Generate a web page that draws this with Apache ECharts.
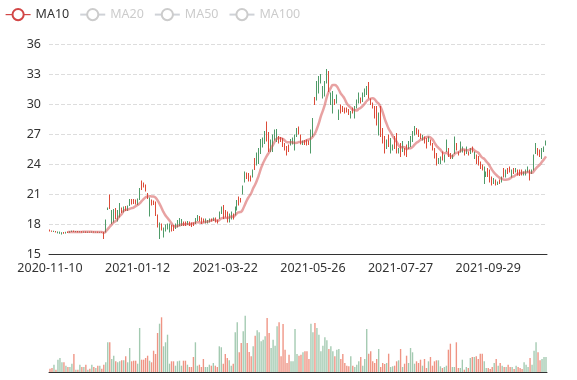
<!DOCTYPE html>
<html><head><meta charset="utf-8">
<script src="https://cdn.jsdelivr.net/npm/echarts@6/dist/echarts.min.js"></script>
<style>html,body{margin:0;padding:0;background:#fff}#main{width:577px;height:380px}</style>
</head><body><div id="main"></div>
<script>
// trading dates (category axis)
const dates = [
'2020-11-10','2020-11-11','2020-11-12','2020-11-13','2020-11-16','2020-11-17','2020-11-18','2020-11-19','2020-11-20','2020-11-23',
'2020-11-24','2020-11-25','2020-11-26','2020-11-27','2020-11-30','2020-12-01','2020-12-02','2020-12-03','2020-12-04','2020-12-07',
'2020-12-08','2020-12-09','2020-12-10','2020-12-11','2020-12-14','2020-12-15','2020-12-16','2020-12-17','2020-12-18','2020-12-21',
'2020-12-22','2020-12-23','2020-12-24','2020-12-25','2020-12-28','2020-12-29','2020-12-30','2020-12-31','2021-01-04','2021-01-05',
'2021-01-06','2021-01-07','2021-01-08','2021-01-11','2021-01-12','2021-01-13','2021-01-14','2021-01-15','2021-01-18','2021-01-19',
'2021-01-20','2021-01-21','2021-01-22','2021-01-25','2021-01-26','2021-01-27','2021-01-28','2021-01-29','2021-02-01','2021-02-02',
'2021-02-03','2021-02-04','2021-02-05','2021-02-08','2021-02-09','2021-02-10','2021-02-18','2021-02-19','2021-02-22','2021-02-23',
'2021-02-24','2021-02-25','2021-02-26','2021-03-01','2021-03-02','2021-03-03','2021-03-04','2021-03-05','2021-03-08','2021-03-09',
'2021-03-10','2021-03-11','2021-03-12','2021-03-15','2021-03-16','2021-03-17','2021-03-18','2021-03-19','2021-03-22','2021-03-23',
'2021-03-24','2021-03-25','2021-03-26','2021-03-29','2021-03-30','2021-03-31','2021-04-01','2021-04-02','2021-04-05','2021-04-06',
'2021-04-07','2021-04-08','2021-04-09','2021-04-12','2021-04-13','2021-04-14','2021-04-15','2021-04-16','2021-04-19','2021-04-20',
'2021-04-21','2021-04-22','2021-04-23','2021-04-26','2021-04-27','2021-04-28','2021-04-29','2021-04-30','2021-05-06','2021-05-07',
'2021-05-10','2021-05-11','2021-05-12','2021-05-13','2021-05-14','2021-05-17','2021-05-18','2021-05-19','2021-05-20','2021-05-21',
'2021-05-24','2021-05-25','2021-05-26','2021-05-27','2021-05-28','2021-05-31','2021-06-01','2021-06-02','2021-06-03','2021-06-04',
'2021-06-07','2021-06-08','2021-06-09','2021-06-10','2021-06-11','2021-06-14','2021-06-15','2021-06-16','2021-06-17','2021-06-18',
'2021-06-21','2021-06-22','2021-06-23','2021-06-24','2021-06-25','2021-06-28','2021-06-29','2021-06-30','2021-07-01','2021-07-02',
'2021-07-05','2021-07-06','2021-07-07','2021-07-08','2021-07-09','2021-07-12','2021-07-13','2021-07-14','2021-07-15','2021-07-16',
'2021-07-19','2021-07-20','2021-07-21','2021-07-22','2021-07-23','2021-07-26','2021-07-27','2021-07-28','2021-07-29','2021-07-30',
'2021-08-02','2021-08-03','2021-08-04','2021-08-05','2021-08-06','2021-08-09','2021-08-10','2021-08-11','2021-08-12','2021-08-13',
'2021-08-16','2021-08-17','2021-08-18','2021-08-19','2021-08-20','2021-08-23','2021-08-24','2021-08-25','2021-08-26','2021-08-27',
'2021-08-30','2021-08-31','2021-09-01','2021-09-02','2021-09-03','2021-09-06','2021-09-07','2021-09-08','2021-09-09','2021-09-10',
'2021-09-13','2021-09-14','2021-09-15','2021-09-16','2021-09-17','2021-09-22','2021-09-23','2021-09-24','2021-09-27','2021-09-28',
'2021-09-29','2021-09-30','2021-10-08','2021-10-11','2021-10-12','2021-10-13','2021-10-14','2021-10-15','2021-10-18','2021-10-19',
'2021-10-20','2021-10-21','2021-10-22','2021-10-25','2021-10-26','2021-10-27','2021-10-28','2021-10-29','2021-11-01','2021-11-02',
'2021-11-03','2021-11-04','2021-11-05','2021-11-08','2021-11-09','2021-11-10','2021-11-11','2021-11-12','2021-11-15','2021-11-16'
];

// daily bars: [open, close, low, high]
const priceBars = [
[17.40,17.30,17.25,17.45],[17.32,17.26,17.22,17.35],[17.24,17.30,17.20,17.33],[17.28,17.18,17.15,17.30],[17.10,17.22,17.06,17.25],
[17.06,17.20,17.02,17.24],[17.00,17.16,16.95,17.18],[17.16,17.06,17.02,17.20],[17.06,17.20,17.04,17.22],[17.22,17.12,17.10,17.26],
[17.14,17.26,17.12,17.28],[17.24,17.30,17.20,17.34],[17.32,17.22,17.20,17.34],[17.22,17.28,17.18,17.30],[17.28,17.20,17.16,17.30],
[17.18,17.26,17.16,17.28],[17.26,17.18,17.14,17.28],[17.16,17.24,17.14,17.26],[17.24,17.14,17.12,17.26],[17.14,17.22,17.12,17.24],
[17.22,17.16,17.14,17.24],[17.16,17.24,17.14,17.26],[17.24,17.16,17.14,17.26],[17.16,17.22,17.14,17.24],[17.22,17.14,17.12,17.24],
[17.14,17.20,17.12,17.22],[17.20,17.16,17.14,17.22],[17.20,16.60,16.50,17.22],[17.20,18.40,17.15,18.45],[19.45,19.60,19.40,19.65],
[20.90,19.55,19.50,20.95],[18.05,19.35,18.00,19.40],[18.20,19.45,18.15,19.50],[19.55,18.55,18.50,19.60],[18.30,19.35,18.25,19.40],
[18.70,20.05,18.65,20.10],[19.60,19.15,19.10,19.65],[19.20,19.70,19.15,19.75],[19.75,19.35,19.30,19.80],[19.35,19.80,19.30,19.85],
[19.85,20.45,19.80,20.50],[20.45,20.00,19.95,20.50],[20.45,20.05,20.00,20.50],[20.40,20.00,19.95,20.45],[19.95,20.50,19.90,20.55],
[20.45,21.55,20.40,21.60],[22.30,21.45,21.40,22.35],[22.10,21.70,21.65,22.15],[21.90,21.30,21.25,21.95],[21.05,20.55,20.50,21.10],
[18.80,20.60,18.75,20.65],[20.40,19.90,19.85,20.45],[20.30,19.95,19.90,20.35],[20.20,18.85,18.80,20.25],[18.90,17.70,17.65,18.95],
[16.55,18.10,16.50,18.15],[18.00,17.40,17.35,18.05],[16.70,17.60,16.65,17.65],[17.30,17.90,17.25,17.95],[17.50,18.00,17.45,18.05],
[17.20,18.00,17.15,18.05],[17.85,17.30,17.25,17.90],[17.85,17.35,17.30,17.90],[17.55,18.00,17.50,18.05],[17.70,18.35,17.65,18.40],
[17.85,18.55,17.80,18.60],[17.85,18.45,17.80,18.50],[18.20,17.85,17.80,18.25],[18.20,17.85,17.80,18.25],[17.95,18.25,17.90,18.30],
[18.20,17.85,17.80,18.25],[18.10,17.75,17.70,18.15],[18.10,17.85,17.80,18.15],[18.05,18.55,18.00,18.60],[18.35,18.85,18.30,18.90],
[18.75,18.30,18.25,18.80],[18.60,18.05,18.00,18.65],[18.50,18.20,18.15,18.55],[18.10,18.50,18.05,18.55],[18.10,18.35,18.05,18.40],
[18.20,18.50,18.15,18.55],[18.50,18.30,18.25,18.55],[18.35,18.60,18.30,18.65],[18.60,18.20,18.15,18.65],[18.40,18.10,18.05,18.45],
[18.55,19.20,18.50,19.25],[19.05,19.70,19.00,19.75],[19.85,18.55,18.50,19.90],[19.35,18.70,18.65,19.40],[19.20,18.20,18.15,19.25],
[18.20,19.00,18.15,19.05],[18.50,19.20,18.45,19.25],[19.00,18.50,18.45,19.05],[18.90,19.70,18.85,19.75],[19.40,20.35,19.35,20.40],
[20.70,19.90,19.85,20.75],[20.55,20.20,20.15,20.60],[21.00,21.80,20.95,21.85],[22.20,23.20,22.15,23.25],[23.10,22.55,22.50,23.15],
[23.05,22.30,22.25,23.10],[22.80,22.30,22.25,22.85],[22.70,23.40,22.65,23.45],[24.55,23.45,23.40,24.60],[23.90,25.10,23.85,25.15],
[24.05,25.55,24.00,25.60],[25.05,26.45,25.00,26.50],[25.70,26.60,25.65,26.65],[26.05,27.25,26.00,27.30],[28.20,26.30,26.25,28.25],
[27.15,25.25,25.20,27.20],[25.25,26.40,25.20,26.45],[25.25,26.90,25.20,26.95],[26.40,27.40,26.35,27.45],[26.25,27.45,26.20,27.50],
[26.75,26.10,26.05,26.80],[26.65,26.25,26.20,26.70],[26.55,25.75,25.70,26.60],[26.05,25.40,25.35,26.10],[25.75,24.90,24.85,25.80],
[25.90,25.25,25.20,25.95],[25.90,26.45,25.85,26.50],[26.00,26.60,25.95,26.65],[25.40,26.90,25.35,26.95],[26.75,27.55,26.70,27.60],
[27.70,27.00,26.95,27.75],[26.90,26.00,25.95,26.95],[25.95,26.30,25.90,26.35],[26.35,25.95,25.90,26.40],[26.40,25.90,25.85,26.45],
[26.30,25.95,25.90,26.35],[25.10,27.40,25.05,27.45],[26.75,28.55,26.70,28.60],[30.65,29.95,29.90,30.70],[30.40,32.25,30.35,32.30],
[31.10,32.75,31.05,32.80],[32.10,32.95,32.05,33.00],[30.60,31.75,30.55,31.80],[30.80,32.25,30.75,32.30],[32.10,33.40,32.05,33.50],
[33.25,31.30,31.20,33.30],[29.95,31.10,29.90,31.15],[29.10,31.25,29.05,31.30],[30.45,29.95,29.90,30.50],[30.10,30.90,30.05,30.95],
[28.45,29.40,28.40,29.45],[29.90,29.10,29.05,29.95],[29.75,29.25,29.20,29.80],[29.60,29.10,29.05,29.65],[29.60,29.20,29.15,29.65],
[29.45,28.95,28.90,29.50],[28.60,29.25,28.55,29.30],[29.60,29.10,29.05,29.65],[28.60,29.75,28.55,29.80],[29.60,30.40,29.55,30.45],
[30.10,31.10,30.05,31.15],[30.60,30.10,30.05,30.65],[30.25,31.10,30.20,31.15],[30.75,31.50,30.70,31.55],[30.95,31.75,30.90,31.80],
[32.15,30.60,30.55,32.20],[30.50,29.95,29.90,30.55],[30.10,29.60,29.55,30.15],[29.75,28.60,28.55,29.80],[29.75,27.90,27.85,29.80],
[26.90,29.10,26.85,29.15],[29.75,26.75,26.70,29.80],[27.55,26.10,26.05,27.60],[26.75,25.10,25.05,26.80],[25.55,26.40,25.50,26.45],
[26.90,25.75,25.70,26.95],[25.10,26.55,25.05,26.60],[25.40,25.90,25.35,25.95],[26.75,25.55,25.50,26.80],[27.05,25.10,25.05,27.10],
[25.10,25.55,25.05,25.60],[26.05,24.75,24.70,26.10],[25.25,26.25,25.20,26.30],[25.55,24.90,24.85,25.60],[25.90,24.75,24.70,25.95],
[25.55,26.25,25.50,26.30],[25.75,26.75,25.70,26.80],[26.25,27.25,26.20,27.30],[26.90,27.75,26.85,27.80],[27.55,27.00,26.95,27.60],
[27.40,26.75,26.70,27.45],[27.00,26.55,26.50,27.05],[26.40,26.85,26.35,26.90],[26.70,26.10,26.05,26.75],[26.55,25.60,25.55,26.60],
[26.25,26.70,26.20,26.75],[26.40,25.90,25.85,26.45],[26.05,25.40,25.35,26.10],[25.55,24.60,24.55,25.60],[25.05,23.90,23.85,25.10],
[24.05,24.55,24.00,24.60],[24.05,24.70,24.00,24.75],[25.20,24.40,24.35,25.25],[24.20,24.90,24.15,24.95],[25.25,26.40,25.20,26.45],
[25.55,24.75,24.70,25.60],[25.05,24.55,24.50,25.10],[24.55,24.90,24.50,24.95],[25.05,26.70,25.00,26.75],[26.05,25.40,25.35,26.10],
[25.20,24.90,24.85,25.25],[25.20,26.20,25.15,26.25],[25.20,25.70,25.15,25.75],[25.40,24.90,24.85,25.45],[25.05,25.70,25.00,25.75],
[25.20,24.90,24.85,25.25],[25.05,25.55,25.00,25.60],[25.70,25.20,25.15,25.75],[24.55,25.20,24.50,25.25],[24.90,24.05,24.00,24.95],
[24.75,23.90,23.85,24.80],[24.20,23.55,23.50,24.25],[23.90,23.40,23.35,23.95],[22.05,23.70,22.00,23.75],[22.75,23.20,22.70,23.25],
[23.55,22.75,22.70,23.60],[23.40,22.20,22.15,23.45],[22.70,21.90,21.85,22.75],[22.05,22.55,22.00,22.60],[22.40,21.90,21.85,22.45],
[21.95,22.20,21.90,22.25],[22.40,22.05,22.00,22.45],[22.20,22.70,22.15,22.75],[23.55,22.70,22.65,23.60],[22.70,23.40,22.65,23.45],
[23.55,23.05,23.00,23.60],[23.70,23.20,23.15,23.75],[22.70,23.40,22.65,23.45],[23.55,23.05,23.00,23.60],[23.20,23.55,23.15,23.60],
[23.40,22.90,22.85,23.45],[23.40,22.85,22.80,23.45],[23.40,22.90,22.85,23.45],[22.90,23.20,22.85,23.25],[22.90,23.40,22.85,23.45],
[23.20,23.70,23.15,23.75],[23.40,22.40,22.35,23.45],[23.05,23.40,23.00,23.45],[23.40,24.90,23.35,24.95],[25.05,26.05,25.00,26.10],
[25.55,24.90,24.85,25.60],[25.40,24.75,24.70,25.45],[24.55,25.55,24.50,25.60],[25.25,25.70,25.20,25.75],[25.90,26.30,25.85,26.35]
];

// daily volume
const volumes = [
3.3,4,7.3,2.3,12.3,14,9.7,9.7,6.3,5,
5,8.3,18,2.3,2.3,7.3,5,5,7.3,2.3,
3.3,7.3,5,4,6.3,6.3,3.3,7.3,9.7,29.7,
29.7,13,16.3,10.7,9.7,10.7,11.7,11.7,15.7,9.7,
24,10.7,11.3,11.3,8.3,44,12.3,12.3,14,16.3,
11.3,9.7,21.3,18,39,48.3,54.7,25.7,29.7,37.3,
8.3,10.7,10.7,6.3,10.7,11.3,6.3,11.3,11.3,7.3,
5,5,15,29.7,6.3,7.3,5,13,5,5,
7.3,6.3,9,6.3,5,25.7,24.7,8.3,18,14,
11.7,6.3,8.3,39.7,49.7,19.7,29,40.7,56.3,29,
20,15.7,25.7,36.3,41.7,39.7,30.7,32.3,35.7,54,
39,24,32.3,26.3,45.7,49.7,15.7,48,22.3,9,
17.3,10.7,10.7,43,18,16.3,17.3,19.7,20.7,20.7,
13,48.3,39.7,49,44,37.3,20.7,26.3,34.7,31.7,
23,25.7,20.7,15.7,22.3,23,13,18,9,6.3,
5.7,15.7,6.3,5,7.3,10.7,15,6.3,13,43,
18.3,20.7,10.7,9,13,23,5,9,8,9,
18.3,5,5.7,6.3,10.7,11.7,23,5,8.3,16.3,
9,24,19.7,8.3,10.7,9,12.3,6.3,13,4,
10.7,15,6.3,10.7,11.7,11.7,5.7,4,5,6.3,
22.3,28.3,5,5,29.7,4,4,12.3,2.3,5,
4,14,15,15,15.7,13,18.3,18.3,10.7,4,
4,3,5,9,13,6.3,9,6.3,5,5,
7.3,5,5,3,6.3,5,4,3,9.7,7.3,
5,14,7.3,21.3,29.7,19.7,11.7,13,15,15
];

const maNames = ['MA10', 'MA20', 'MA50', 'MA100'];
const maPeriods = [10, 20, 50, 100];
const maColors = ['#d24646', '#6a8fc8', '#e0a43c', '#8c6bb1'];
const priceMin = 15, priceMax = 36, priceStep = 3;

function movingAverage(period) {
  const out = [];
  for (let i = 0; i < priceBars.length; i++) {
    if (i < period - 1) { out.push('-'); continue; }
    let s = 0;
    for (let j = 0; j < period; j++) s += priceBars[i - j][1];
    out.push(+(s / period).toFixed(3));
  }
  return out;
}

const upColor = '#4f9b69';
const downColor = '#dc4b38';
const volUpColor = '#a3cab1';
const volDownColor = '#ef9484';

const chart = echarts.init(document.getElementById('main'), null, {renderer: 'canvas'});
const font = 'Noto Sans';

const maSeries = maNames.map((name, k) => ({
  name: name,
  type: 'line',
  data: movingAverage(maPeriods[k]),
  smooth: true,
  showSymbol: false,
  symbol: 'emptyCircle',
  color: maColors[k],
  itemStyle: {borderWidth: 1},
  lineStyle: {width: 2.5, opacity: 0.5},
  xAxisIndex: 0, yAxisIndex: 0
}));

chart.setOption({
  animation: false,
  backgroundColor: '#fff',
  textStyle: {fontFamily: font},
  legend: {
    data: maNames,
    left: 0, top: 3,
    itemWidth: 25, itemHeight: 14, itemGap: 10,
    selected: {MA20: false, MA50: false, MA100: false},
    inactiveColor: '#ccc',
    itemStyle: {borderWidth: 1},
    lineStyle: {width: 1.2, opacity: 1},
    textStyle: {color: '#333', fontSize: 12.5, fontFamily: font}
  },
  grid: [
    {left: 49, right: 30, top: 44, height: 210},
    {left: 49, right: 30, top: 292, height: 80}
  ],
  xAxis: [
    {
      type: 'category', data: dates, boundaryGap: true,
      axisLine: {lineStyle: {color: '#333'}},
      axisTick: {interval: 43, lineStyle: {color: '#333'}},
      axisLabel: {interval: 43, color: '#333', fontSize: 12.5, fontFamily: font},
      splitLine: {show: false}
    },
    {
      type: 'category', gridIndex: 1, data: dates, boundaryGap: true,
      axisLine: {lineStyle: {color: '#333'}},
      axisTick: {show: false}, axisLabel: {show: false}, splitLine: {show: false}
    }
  ],
  yAxis: [
    {
      type: 'value', min: priceMin, max: priceMax, interval: priceStep,
      axisLine: {show: false}, axisTick: {show: false},
      axisLabel: {color: '#333', fontSize: 12.5, fontFamily: font},
      splitLine: {show: true, lineStyle: {type: 'dashed', color: '#ddd'}}
    },
    {
      type: 'value', gridIndex: 1, min: 0, max: 80, show: false,
      splitLine: {show: false}
    }
  ],
  series: [
    {
      name: 'K', type: 'candlestick', data: priceBars,
      xAxisIndex: 0, yAxisIndex: 0,
      itemStyle: {color: upColor, color0: downColor, borderColor: upColor, borderColor0: downColor, borderWidth: 1}
    }
  ].concat(maSeries).concat([
    {
      name: 'Volume', type: 'bar', data: volumes,
      xAxisIndex: 1, yAxisIndex: 1,
      itemStyle: {
        color: function (p) { const b = priceBars[p.dataIndex]; return b[1] >= b[0] ? volUpColor : volDownColor; }
      }
    }
  ])
});
</script>
</body></html>
